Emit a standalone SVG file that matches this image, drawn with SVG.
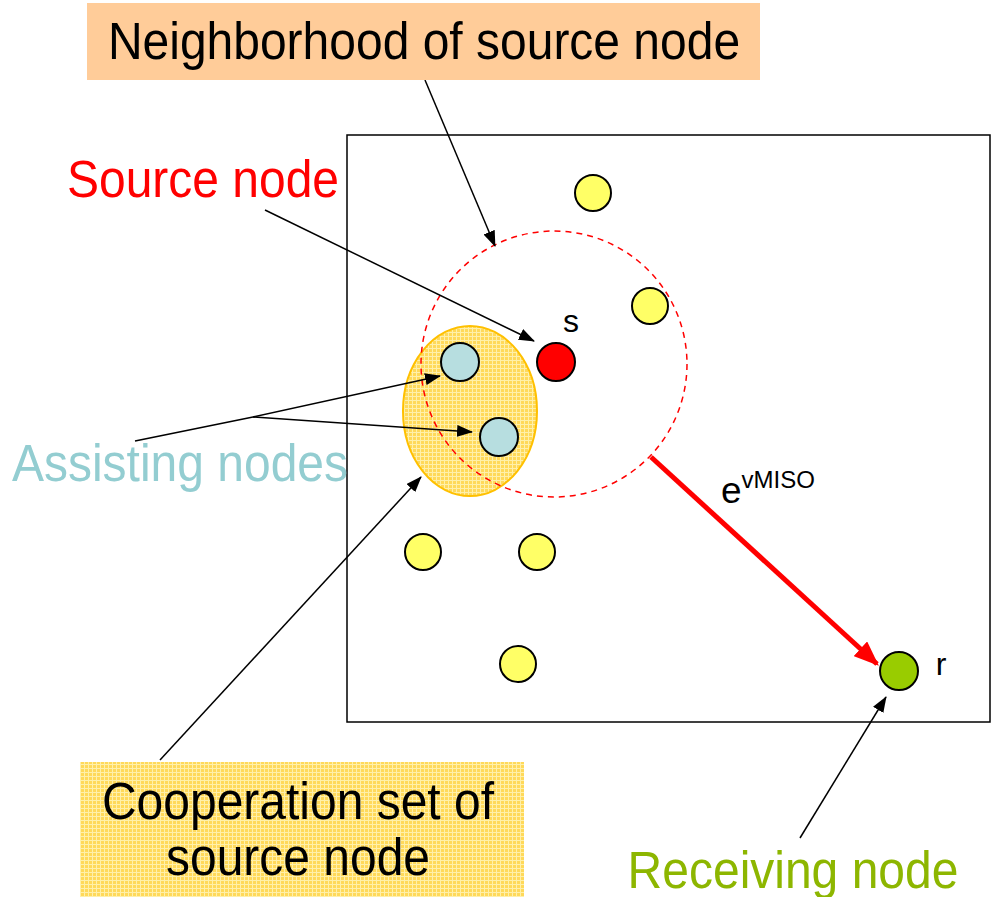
<svg xmlns="http://www.w3.org/2000/svg" width="997" height="897" viewBox="0 0 997 897">
<style>
text{font-family:"Liberation Sans",Arial,sans-serif;}
.lbl{font-size:48px;}
.node{stroke:#000;stroke-width:2;}
.conn{stroke:#000;stroke-width:1.5;fill:none;marker-end:url(#ah);}
</style>
<defs>
<marker id="ah" markerWidth="16" markerHeight="12" refX="15" refY="6" orient="auto" markerUnits="userSpaceOnUse">
<path d="M0,0 L16,6 L0,12 Z" fill="#000"/>
</marker>
<marker id="ahr" markerWidth="5" markerHeight="4" refX="4.5" refY="2" orient="auto" markerUnits="strokeWidth">
<path d="M0,0 L5,2 L0,4 Z" fill="#f00"/>
</marker>
<pattern id="grid" width="4" height="4" patternUnits="userSpaceOnUse">
<rect width="4" height="4" fill="#FFD95A"/>
<path d="M0,0.5 H4 M0.5,0 V4" stroke="#FFF0AA" stroke-width="1"/>
</pattern>
</defs>

<rect id="frame" x="347" y="135" width="643" height="587" fill="none" stroke="#000" stroke-width="1.5"/>

<g id="cooperation-ellipse">
<ellipse cx="470" cy="411" rx="67" ry="85" fill="url(#grid)" stroke="#FFC000" stroke-width="2"/>
</g>
<g id="neighborhood-circle">
<circle cx="554" cy="364" r="133" fill="none" stroke="#f00" stroke-width="1.5" stroke-dasharray="6,5"/>
</g>

<g id="nodes">
<g id="y1"><circle class="node" cx="593" cy="193" r="18" fill="#FFFF66"/></g>
<g id="y2"><circle class="node" cx="650" cy="306" r="18" fill="#FFFF66"/></g>
<g id="y3"><circle class="node" cx="423" cy="552" r="18" fill="#FFFF66"/></g>
<g id="y4"><circle class="node" cx="537" cy="552" r="18" fill="#FFFF66"/></g>
<g id="y5"><circle class="node" cx="518" cy="664" r="18" fill="#FFFF66"/></g>
<g id="a1"><circle class="node" cx="460" cy="362" r="19" fill="#B7DEE0"/></g>
<g id="a2"><circle class="node" cx="499" cy="437" r="19" fill="#B7DEE0"/></g>
<g id="s"><circle class="node" cx="556" cy="362" r="19" fill="#f00"/><text x="571" y="332" font-size="32" text-anchor="middle">s</text></g>
<g id="r"><circle class="node" cx="899" cy="671" r="19" fill="#99CC00"/><text x="941" y="675" font-size="32" text-anchor="middle">r</text></g>
</g>

<g id="connectors">
<line class="conn" x1="425" y1="80" x2="495" y2="246"/>
<line class="conn" x1="265" y1="210" x2="534" y2="341"/>
<polyline points="135,441 253,417 440,376" class="conn"/>
<line class="conn" x1="253" y1="417" x2="472" y2="432"/>
<line class="conn" x1="160" y1="760" x2="421" y2="477"/>
<line class="conn" x1="800" y1="838" x2="886" y2="697"/>
<line x1="651" y1="457" x2="877" y2="664" stroke="#f00" stroke-width="5" marker-end="url(#ahr)"/>
<text x="721" y="503" font-size="37">e<tspan font-size="24" dy="-15">vMISO</tspan></text>
</g>

<g id="neighborhood-label">
<rect x="87" y="3" width="673" height="77" fill="#FFCC99"/>
<text class="lbl" transform="translate(424,59) scale(1,1.08)" text-anchor="middle">Neighborhood of source node</text>
</g>
<g id="source-label"><text class="lbl" transform="translate(203,197) scale(1,1.08)" text-anchor="middle" fill="#f00">Source node</text></g>
<g id="assisting-label"><text class="lbl" transform="translate(180,481) scale(1,1.08)" text-anchor="middle" fill="#93CDD1">Assisting nodes</text></g>
<g id="cooperation-label">
<rect x="80" y="762" width="444" height="135" fill="url(#grid)"/>
<text class="lbl" transform="translate(298,819) scale(1,1.08)" text-anchor="middle">Cooperation set of</text>
<text class="lbl" transform="translate(298,875) scale(1,1.08)" text-anchor="middle">source node</text>
</g>
<g id="receiving-label"><text class="lbl" transform="translate(793,888) scale(1,1.08)" text-anchor="middle" fill="#8DB600">Receiving node</text></g>
</svg>
